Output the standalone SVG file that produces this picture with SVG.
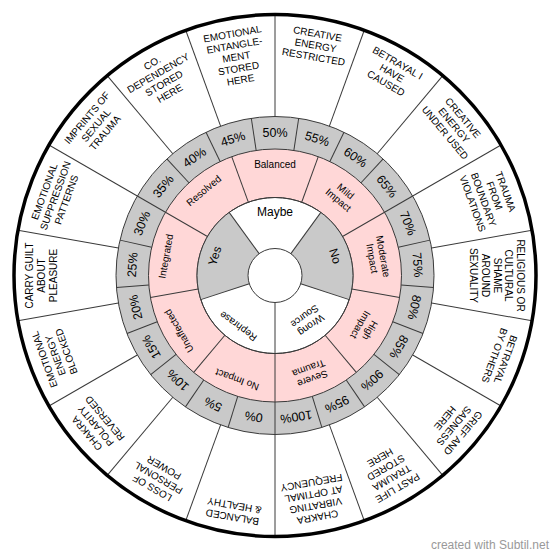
<svg xmlns="http://www.w3.org/2000/svg" width="550" height="559" viewBox="0 0 550 559">
<style>
text{font-family:"Liberation Sans",Arial,sans-serif;fill:#000;text-anchor:middle}
.o{font-size:10px}
.p{font-size:12.5px}
.k{font-size:10px}
.y{font-size:12px}
.ln line{stroke:#3a3a3a;stroke-width:1}
.ring{stroke:#3a3a3a;stroke-width:1}
.wm{font-size:12px;fill:#999;text-anchor:end}
</style>
<rect width="550" height="559" fill="#fff"/>
<g id="rings">
<circle cx="275" cy="275.5" r="261" fill="#fff"/>
<circle class="ring" cx="275" cy="275.5" r="159" fill="#c9c9c9"/>
<circle class="ring" cx="275" cy="275.5" r="126.5" fill="#ffd7d7"/>
<circle class="ring" cx="275" cy="275.5" r="78" fill="#fff"/>
<path d="M275,275.5 L320.85,212.4 A78,78 0 0 1 349.18,299.6 Z" fill="#c9c9c9"/>
<path d="M275,275.5 L200.82,299.6 A78,78 0 0 1 229.15,212.4 Z" fill="#c9c9c9"/>
<circle class="ring" cx="275" cy="275.5" r="78" fill="none"/>
</g>
<g id="connectors" class="ln">
<g id="outer-lines">
<line x1="275" y1="116.5" x2="275" y2="14.5"/>
<line x1="275" y1="116.5" x2="275" y2="14.5" transform="rotate(20 275 275.5)"/>
<line x1="275" y1="116.5" x2="275" y2="14.5" transform="rotate(40 275 275.5)"/>
<line x1="275" y1="116.5" x2="275" y2="14.5" transform="rotate(60 275 275.5)"/>
<line x1="275" y1="116.5" x2="275" y2="14.5" transform="rotate(80 275 275.5)"/>
<line x1="275" y1="116.5" x2="275" y2="14.5" transform="rotate(100 275 275.5)"/>
<line x1="275" y1="116.5" x2="275" y2="14.5" transform="rotate(120 275 275.5)"/>
<line x1="275" y1="116.5" x2="275" y2="14.5" transform="rotate(140 275 275.5)"/>
<line x1="275" y1="116.5" x2="275" y2="14.5" transform="rotate(160 275 275.5)"/>
<line x1="275" y1="116.5" x2="275" y2="14.5" transform="rotate(180 275 275.5)"/>
<line x1="275" y1="116.5" x2="275" y2="14.5" transform="rotate(200 275 275.5)"/>
<line x1="275" y1="116.5" x2="275" y2="14.5" transform="rotate(220 275 275.5)"/>
<line x1="275" y1="116.5" x2="275" y2="14.5" transform="rotate(240 275 275.5)"/>
<line x1="275" y1="116.5" x2="275" y2="14.5" transform="rotate(260 275 275.5)"/>
<line x1="275" y1="116.5" x2="275" y2="14.5" transform="rotate(280 275 275.5)"/>
<line x1="275" y1="116.5" x2="275" y2="14.5" transform="rotate(300 275 275.5)"/>
<line x1="275" y1="116.5" x2="275" y2="14.5" transform="rotate(320 275 275.5)"/>
<line x1="275" y1="116.5" x2="275" y2="14.5" transform="rotate(340 275 275.5)"/>
</g>
<g id="pct-lines">
<line x1="275" y1="149" x2="275" y2="116.5" transform="rotate(8.571 275 275.5)"/>
<line x1="275" y1="149" x2="275" y2="116.5" transform="rotate(25.714 275 275.5)"/>
<line x1="275" y1="149" x2="275" y2="116.5" transform="rotate(42.857 275 275.5)"/>
<line x1="275" y1="149" x2="275" y2="116.5" transform="rotate(60 275 275.5)"/>
<line x1="275" y1="149" x2="275" y2="116.5" transform="rotate(77.143 275 275.5)"/>
<line x1="275" y1="149" x2="275" y2="116.5" transform="rotate(94.286 275 275.5)"/>
<line x1="275" y1="149" x2="275" y2="116.5" transform="rotate(111.429 275 275.5)"/>
<line x1="275" y1="149" x2="275" y2="116.5" transform="rotate(128.571 275 275.5)"/>
<line x1="275" y1="149" x2="275" y2="116.5" transform="rotate(145.714 275 275.5)"/>
<line x1="275" y1="149" x2="275" y2="116.5" transform="rotate(162.857 275 275.5)"/>
<line x1="275" y1="149" x2="275" y2="116.5" transform="rotate(180 275 275.5)"/>
<line x1="275" y1="149" x2="275" y2="116.5" transform="rotate(197.143 275 275.5)"/>
<line x1="275" y1="149" x2="275" y2="116.5" transform="rotate(214.286 275 275.5)"/>
<line x1="275" y1="149" x2="275" y2="116.5" transform="rotate(231.429 275 275.5)"/>
<line x1="275" y1="149" x2="275" y2="116.5" transform="rotate(248.571 275 275.5)"/>
<line x1="275" y1="149" x2="275" y2="116.5" transform="rotate(265.714 275 275.5)"/>
<line x1="275" y1="149" x2="275" y2="116.5" transform="rotate(282.857 275 275.5)"/>
<line x1="275" y1="149" x2="275" y2="116.5" transform="rotate(300 275 275.5)"/>
<line x1="275" y1="149" x2="275" y2="116.5" transform="rotate(317.143 275 275.5)"/>
<line x1="275" y1="149" x2="275" y2="116.5" transform="rotate(334.286 275 275.5)"/>
<line x1="275" y1="149" x2="275" y2="116.5" transform="rotate(351.429 275 275.5)"/>
</g>
<g id="pink-lines">
<line x1="275" y1="197.5" x2="275" y2="149" transform="rotate(20 275 275.5)"/>
<line x1="275" y1="197.5" x2="275" y2="149" transform="rotate(60 275 275.5)"/>
<line x1="275" y1="197.5" x2="275" y2="149" transform="rotate(100 275 275.5)"/>
<line x1="275" y1="197.5" x2="275" y2="149" transform="rotate(140 275 275.5)"/>
<line x1="275" y1="197.5" x2="275" y2="149" transform="rotate(180 275 275.5)"/>
<line x1="275" y1="197.5" x2="275" y2="149" transform="rotate(220 275 275.5)"/>
<line x1="275" y1="197.5" x2="275" y2="149" transform="rotate(260 275 275.5)"/>
<line x1="275" y1="197.5" x2="275" y2="149" transform="rotate(300 275 275.5)"/>
<line x1="275" y1="197.5" x2="275" y2="149" transform="rotate(340 275 275.5)"/>
</g>
<g id="yn-lines">
<line x1="275" y1="248.5" x2="275" y2="197.5" transform="rotate(36 275 275.5)"/>
<line x1="275" y1="248.5" x2="275" y2="197.5" transform="rotate(108 275 275.5)"/>
<line x1="275" y1="248.5" x2="275" y2="197.5" transform="rotate(180 275 275.5)"/>
<line x1="275" y1="248.5" x2="275" y2="197.5" transform="rotate(252 275 275.5)"/>
<line x1="275" y1="248.5" x2="275" y2="197.5" transform="rotate(324 275 275.5)"/>
</g>
</g>
<circle id="center" class="ring" cx="275" cy="275.5" r="27" fill="#fff"/>
<circle id="outer-border" cx="275" cy="275.5" r="261" fill="none" stroke="#000" stroke-width="3.5"/>

<g id="outer-labels" class="o">
<g id="o1" transform="rotate(10 275 275.5)"><text class="o"><tspan x="275" y="33.6">CREATIVE</tspan><tspan x="275" y="45.3">ENERGY</tspan><tspan x="275" y="57">RESTRICTED</tspan></text></g>
<g id="o2" transform="rotate(30 275 275.5)"><text class="o"><tspan x="275" y="33.6">BETRAYAL I</tspan><tspan x="275" y="45.3">HAVE</tspan><tspan x="275" y="57">CAUSED</tspan></text></g>
<g id="o3" transform="rotate(50 275 275.5)"><text class="o"><tspan x="275" y="33.6">CREATIVE</tspan><tspan x="275" y="45.3">ENERGY</tspan><tspan x="275" y="57">UNDER USED</tspan></text></g>
<g id="o4" transform="rotate(70 275 275.5)"><text class="o"><tspan x="275" y="33.6">TRAUMA</tspan><tspan x="275" y="45.3">FROM</tspan><tspan x="275" y="57">BOUNDARY</tspan><tspan x="275" y="68.7">VIOLATIONS</tspan></text></g>
<g id="o5" transform="rotate(90 275 275.5)"><text class="o"><tspan x="275" y="33.6">RELIGIOUS OR</tspan><tspan x="275" y="45.3">CULTURAL</tspan><tspan x="275" y="57">SHAME</tspan><tspan x="275" y="68.7">AROUND</tspan><tspan x="275" y="80.4">SEXUALITY</tspan></text></g>
<g id="o6" transform="rotate(110 275 275.5)"><text class="o"><tspan x="275" y="33.6">BETRAYAL</tspan><tspan x="275" y="45.3">BY OTHERS</tspan></text></g>
<g id="o7" transform="rotate(130 275 275.5)"><text class="o"><tspan x="275" y="33.6">GRIEF AND</tspan><tspan x="275" y="45.3">SADNESS</tspan><tspan x="275" y="57">HERE</tspan></text></g>
<g id="o8" transform="rotate(150 275 275.5)"><text class="o"><tspan x="275" y="33.6">PAST LIFE</tspan><tspan x="275" y="45.3">TRAUMA</tspan><tspan x="275" y="57">STORED</tspan><tspan x="275" y="68.7">HERE</tspan></text></g>
<g id="o9" transform="rotate(170 275 275.5)"><text class="o"><tspan x="275" y="33.6">CHAKRA</tspan><tspan x="275" y="45.3">VIBRATING</tspan><tspan x="275" y="57">AT OPTIMAL</tspan><tspan x="275" y="68.7">FREQUENCY</tspan></text></g>
<g id="o10" transform="rotate(190 275 275.5)"><text class="o"><tspan x="275" y="33.6">BALANCED</tspan><tspan x="275" y="45.3">&amp; HEALTHY</tspan></text></g>
<g id="o11" transform="rotate(210 275 275.5)"><text class="o"><tspan x="275" y="33.6">LOSS OF</tspan><tspan x="275" y="45.3">PERSONAL</tspan><tspan x="275" y="57">POWER</tspan></text></g>
<g id="o12" transform="rotate(230 275 275.5)"><text class="o"><tspan x="275" y="33.6">CHAKRA</tspan><tspan x="275" y="45.3">POLARITY</tspan><tspan x="275" y="57">REVERSED</tspan></text></g>
<g id="o13" transform="rotate(250 275 275.5)"><text class="o"><tspan x="275" y="33.6">EMOTIONAL</tspan><tspan x="275" y="45.3">ENERGY</tspan><tspan x="275" y="57">BLOCKED</tspan></text></g>
<g id="o14" transform="rotate(270 275 275.5)"><text class="o"><tspan x="275" y="33.6">CARRY GUILT</tspan><tspan x="275" y="45.3">ABOUT</tspan><tspan x="275" y="57">PLEASURE</tspan></text></g>
<g id="o15" transform="rotate(290 275 275.5)"><text class="o"><tspan x="275" y="33.6">EMOTIONAL</tspan><tspan x="275" y="45.3">SUPPRESSION</tspan><tspan x="275" y="57">PATTERNS</tspan></text></g>
<g id="o16" transform="rotate(310 275 275.5)"><text class="o"><tspan x="275" y="33.6">IMPRINTS OF</tspan><tspan x="275" y="45.3">SEXUAL</tspan><tspan x="275" y="57">TRAUMA</tspan></text></g>
<g id="o17" transform="rotate(330 275 275.5)"><text class="o"><tspan x="275" y="33.6">CO.</tspan><tspan x="275" y="45.3">DEPENDENCY</tspan><tspan x="275" y="57">STORED</tspan><tspan x="275" y="68.7">HERE</tspan></text></g>
<g id="o18" transform="rotate(350 275 275.5)"><text class="o"><tspan x="275" y="33.6">EMOTIONAL</tspan><tspan x="275" y="45.3">ENTANGLE-</tspan><tspan x="275" y="57">MENT</tspan><tspan x="275" y="68.7">STORED</tspan><tspan x="275" y="80.4">HERE</tspan></text></g>
</g>

<g id="pct-labels">
<g id="p50"><text class="p" x="275" y="136.8">50%</text></g>
<g id="p55" transform="rotate(17.143 275 275.5)"><text class="p" x="275" y="136.8">55%</text></g>
<g id="p60" transform="rotate(34.286 275 275.5)"><text class="p" x="275" y="136.8">60%</text></g>
<g id="p65" transform="rotate(51.429 275 275.5)"><text class="p" x="275" y="136.8">65%</text></g>
<g id="p70" transform="rotate(68.571 275 275.5)"><text class="p" x="275" y="136.8">70%</text></g>
<g id="p75" transform="rotate(85.714 275 275.5)"><text class="p" x="275" y="136.8">75%</text></g>
<g id="p80" transform="rotate(102.857 275 275.5)"><text class="p" x="275" y="136.8">80%</text></g>
<g id="p85" transform="rotate(120 275 275.5)"><text class="p" x="275" y="136.8">85%</text></g>
<g id="p90" transform="rotate(137.143 275 275.5)"><text class="p" x="275" y="136.8">90%</text></g>
<g id="p95" transform="rotate(154.286 275 275.5)"><text class="p" x="275" y="136.8">95%</text></g>
<g id="p100" transform="rotate(171.429 275 275.5)"><text class="p" x="275" y="136.8">100%</text></g>
<g id="p0" transform="rotate(188.571 275 275.5)"><text class="p" x="275" y="136.8">0%</text></g>
<g id="p5" transform="rotate(205.714 275 275.5)"><text class="p" x="275" y="136.8">5%</text></g>
<g id="p10" transform="rotate(222.857 275 275.5)"><text class="p" x="275" y="136.8">10%</text></g>
<g id="p15" transform="rotate(240 275 275.5)"><text class="p" x="275" y="136.8">15%</text></g>
<g id="p20" transform="rotate(257.143 275 275.5)"><text class="p" x="275" y="136.8">20%</text></g>
<g id="p25" transform="rotate(274.286 275 275.5)"><text class="p" x="275" y="136.8">25%</text></g>
<g id="p30" transform="rotate(291.429 275 275.5)"><text class="p" x="275" y="136.8">30%</text></g>
<g id="p35" transform="rotate(308.571 275 275.5)"><text class="p" x="275" y="136.8">35%</text></g>
<g id="p40" transform="rotate(325.714 275 275.5)"><text class="p" x="275" y="136.8">40%</text></g>
<g id="p45" transform="rotate(342.857 275 275.5)"><text class="p" x="275" y="136.8">45%</text></g>
</g>

<g id="pink-labels">
<g id="k-balanced"><text class="k" x="275" y="168.1">Balanced</text></g>
<g id="k-mild" transform="rotate(40 275 275.5)"><text class="k"><tspan x="275" y="169.1">Mild</tspan><tspan x="275" y="180.3">Impact</tspan></text></g>
<g id="k-moderate" transform="rotate(80 275 275.5)"><text class="k"><tspan x="275" y="169.1">Moderate</tspan><tspan x="275" y="180.3">Impact</tspan></text></g>
<g id="k-high" transform="rotate(120 275 275.5)"><text class="k"><tspan x="275" y="169.1">High</tspan><tspan x="275" y="180.3">Impact</tspan></text></g>
<g id="k-severe" transform="rotate(160 275 275.5)"><text class="k"><tspan x="275" y="169.1">Severe</tspan><tspan x="275" y="180.3">Trauma</tspan></text></g>
<g id="k-noimpact" transform="rotate(200 275 275.5)"><text class="k" x="275" y="168.1">No Impact</text></g>
<g id="k-unaffected" transform="rotate(240 275 275.5)"><text class="k" x="275" y="168.1">Unaffected</text></g>
<g id="k-integrated" transform="rotate(280 275 275.5)"><text class="k" x="275" y="168.1">Integrated</text></g>
<g id="k-resolved" transform="rotate(320 275 275.5)"><text class="k" x="275" y="168.1">Resolved</text></g>
</g>

<g id="yn-labels">
<g id="y-maybe"><text class="y" x="275" y="216.3">Maybe</text></g>
<g id="y-no" transform="rotate(72 275 275.5)"><text class="y" x="275" y="216.3">No</text></g>
<g id="y-wrong" transform="rotate(144 275 275.5)"><text class="k"><tspan x="275" y="217.5">Wrong</tspan><tspan x="275" y="228.6">Source</tspan></text></g>
<g id="y-rephrase" transform="rotate(216 275 275.5)"><text class="k" x="275" y="216.3">Rephrase</text></g>
<g id="y-yes" transform="rotate(288 275 275.5)"><text class="y" x="275" y="216.3">Yes</text></g>
</g>

<text class="wm" x="549" y="549">created with Subtil.net</text>
</svg>
